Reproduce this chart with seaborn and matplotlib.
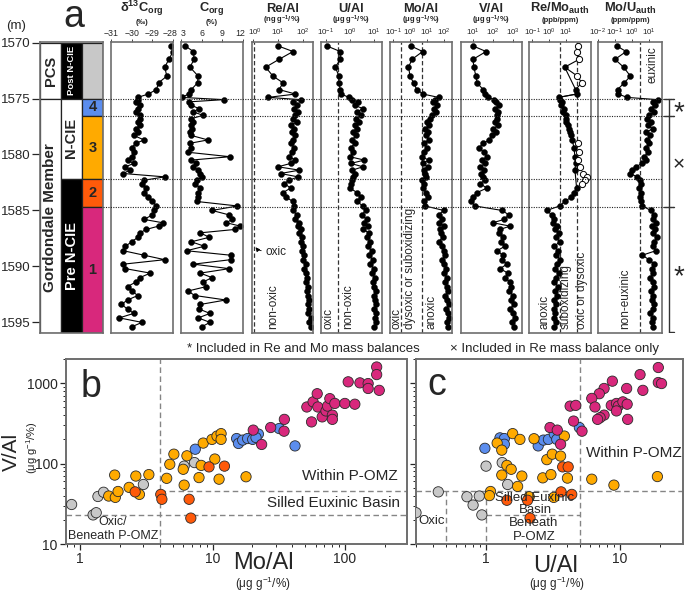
import numpy as np
import pandas as pd
import matplotlib
matplotlib.use("Agg")
import matplotlib.pyplot as plt
import matplotlib.transforms as mtrans
import seaborn as sns
from matplotlib.ticker import NullLocator, NullFormatter, LogLocator, FixedLocator

# ---------------- data: panel a (depth profiles) ----------------
depth = [1570.3, 1570.8, 1571.5, 1572.2, 1573.0, 1573.6, 1574.2, 1574.6, 1574.9,
         1575.1, 1575.3, 1575.6, 1575.9, 1576.2, 1576.5,
         1576.8, 1577.1, 1577.4, 1577.7, 1578.0, 1578.3, 1578.7, 1579.0, 1579.4, 1579.8,
         1580.2, 1580.5, 1580.8, 1581.1, 1581.4, 1581.7, 1582.0,
         1582.3, 1582.6, 1583.0, 1583.4, 1583.8, 1584.2, 1584.6,
         1585.0, 1585.4, 1585.8, 1586.1, 1586.4, 1586.7, 1587.0, 1587.4, 1587.8, 1588.2,
         1588.6, 1589.0, 1589.4, 1589.8, 1590.2, 1590.6, 1591.0, 1591.4, 1591.8, 1592.2,
         1592.6, 1593.0, 1593.4, 1593.8, 1594.2, 1594.6, 1595.0, 1595.4]

d13c = [-28.1, -28.0, -28.2, -28.4, -28.3, -28.7, -28.8, -29.2, -29.7,
        -29.7, -29.8, -29.6, -29.7, -29.8, -29.6,
        -29.6, -29.7, -29.6, -29.8, -29.7, -29.9, -29.4, -29.8, -30.0, -29.9, -30.0, -30.2,
        -29.9, -30.3, -30.1, -30.4, -28.4,
        -29.4, -29.5, -29.3, -29.4, -29.2, -29.0, -28.8,
        -28.9, -29.0, -29.4, -28.5, -28.7, -29.3, -29.6, -29.7, -30.0, -30.3, -30.4, -29.4,
        -28.4, -30.4, -30.3, -29.1, -29.6, -29.8, -30.2, -30.0, -29.7, -30.2, -30.5, -30.2,
        -29.9, -30.6, -29.5, -30.0]

corg = [3.6, 4.8, 4.9, 4.3, 5.5, 5.4, 4.5, 4.1, 3.1,
        9.2, 4.1, 4.5, 5.6, 4.8, 6.2,
        4.5, 4.8, 4.4, 4.6, 4.3, 4.5, 6.9, 4.3, 4.4, 4.0, 10.1, 4.5, 5.2, 4.7, 5.5, 5.7, 6.0,
        5.3, 5.0, 5.8, 5.4, 5.5, 5.3, 11.2,
        7.5, 10.0, 10.4, 9.6, 11.6, 10.8, 5.8, 7.1, 4.5, 6.4, 3.8, 10.2, 10.2, 4.8, 10.0,
        5.8, 7.5, 6.2, 6.7, 4.0, 5.0, 9.5, 5.8, 5.6, 7.2, 5.5, 7.2, 6.0]

re_al = [10, 40, 11, 3.2, 6.3, 16, 11, 50, 4,
         80, 40, 56, 45, 63, 50,
         40, 56, 32, 45, 35, 50, 40, 32, 45, 35, 28, 50, 32, 10, 71, 12.6, 63,
         28, 18, 32, 16, 20, 40, 45,
         40, 56, 50, 71, 63, 80, 71, 89, 80, 100, 89, 112, 100, 126, 112, 126, 141, 126,
         158, 141, 158, 178, 158, 178, 158, 200, 178, 200]

u_al = [0.11, 0.4, 0.4, 0.25, 0.35, 0.35, 0.4, 0.45, 0.9,
        1.26, 2.2, 1.6, 3.5, 2.0, 2.8,
        1.8, 2.5, 1.6, 2.0, 1.4, 1.8, 1.26, 1.6, 1.1, 1.4, 1.0, 4.0, 1.1, 3.5, 1.26, 1.6, 1.4,
        1.26, 1.1, 1.0, 2.0, 2.8, 2.0, 3.5,
        4.5, 3.2, 5.0, 4.0, 5.6, 3.5, 6.3, 5.0, 7.1, 5.6, 8.0, 6.3, 8.9, 7.1, 10, 8.0, 11,
        8.9, 10, 12.6, 10, 11, 12.6, 10, 12.6, 11, 12.6, 10]

mo_al = [1.1, 5.6, 1.3, 0.8, 1.0, 1.6, 2.5, 5.9, 50,
         32, 22, 40, 25, 35, 20,
         16, 10, 14, 8, 11, 9, 12.6, 6.3, 10, 7, 5, 12.6, 5.6, 11, 6.3, 8, 9,
         5, 6.3, 5.6, 9, 11, 7, 8,
         100, 50, 80, 56, 100, 63, 71, 89, 50, 80, 100, 126, 80, 112, 141, 100, 158, 126,
         158, 178, 126, 158, 200, 141, 178, 200, 158, 178]

v_al = [10, 45, 10, 11, 14, 16, 32, 40, 56,
        112, 141, 200, 126, 178, 158,
        158, 126, 178, 100, 141, 89, 63, 32, 20, 35, 50, 28, 40, 22, 35, 25, 32,
        40, 22, 50, 16, 10, 8, 12.6,
        282, 631, 355, 100, 708, 224, 200, 316, 251, 398, 158, 316, 282, 501, 224, 562,
        398, 708, 794, 631, 1000, 794, 1122, 708, 1000, 1259, 891, 1122]

re_mo = [50, 45, 56, 8, 45, 80, 35, 40, 3.5,
         4, 5.6, 5, 7, 6.3, 9,
         10, 9, 12.6, 14, 16, 20, 22, 50, 28, 56, 32, 50, 35, 63, 32, 100, 158,
         126, 80, 40, 28, 20, 8, 4,
         0.7, 1.4, 2, 1.6, 2.8, 2.2, 3.5, 2.5, 4, 2, 3.2, 2.5, 4.5, 2.8, 2.2, 3.5, 2.5, 2,
         3.2, 2.2, 2.8, 2, 2.5, 1.8, 2.2, 2, 2.5, 2]
re_mo_open = [1, 1, 1, 0, 1, 1, 0, 0, 0,
              0, 0, 0, 0, 0, 0,
              0, 0, 0, 0, 0, 0, 0, 1, 0, 1, 0, 1, 0, 1, 0, 1, 1,
              1, 1, 0, 0, 0, 0, 0] + [0] * 28

mo_u = [0.126, 0.45, 0.1, 0.32, 0.8, 0.35, 0.14, 0.16, 0.5,
        32, 16, 22, 12.6, 20, 10,
        8, 12.6, 9, 16, 7, 11, 8, 10, 6.3, 9, 5, 7, 4, 1.6, 1.0, 0.8, 2.0,
        2.8, 3.2, 2.5, 3.5, 2.8, 3.2, 4.0,
        12.6, 20, 16, 25, 14, 22, 18, 28, 20, 16, 25, 4, 10, 20, 14, 18, 11, 16, 20, 12.6,
        18, 14, 20, 16, 11, 18, 14, 16]

# stratigraphy
unit_names = ["PCS", "Gordondale Member"]
unit_tops = [1570, 1575]
phase_names = ["Post N-CIE", "N-CIE", "Pre N-CIE"]
phase_tops = [1570, 1575, 1582.2]
interval_names = ["", "4", "3", "2", "1"]
interval_tops = [1570, 1575, 1576.6, 1582.2, 1584.7]
boundaries = [1575, 1576.6, 1582.2, 1584.7]

# ---------------- data: panels b and c ----------------
groups = ["post", "i4", "i3", "i2", "i1"]
palette = {"post": "#C8C8C8", "i4": "#5B8DEE", "i3": "#FFAA00", "i2": "#FF5A0A", "i1": "#D8287C"}

b_post_mo = [0.86, 1.25, 1.32, 1.36, 1.5, 3.0, 6.1, 7.3]
b_post_v = [31, 23, 24.5, 39, 44, 55, 93, 103]
b_i3_mo = [1.82, 1.64, 1.84, 1.93, 2.34, 2.63, 2.8, 3.3, 4.5, 4.75, 5.1, 6.1, 6.0, 6.4,
           7.9, 8.2, 10.4, 11.2, 17.9, 8.5, 9.9, 10.8, 11.6, 11.6]
b_i3_v = [72, 39.5, 38, 45, 50.6, 70, 41.4, 73, 65.6, 98, 131, 54, 85, 125,
          67, 95, 114, 64, 68.6, 180, 200, 220, 236, 200]
b_i2_mo = [2.6, 4.06, 4.14, 6.65, 6.85, 9.4, 12.3]
b_i2_v = [44.5, 41.4, 36, 36, 21, 91, 93]
b_i4_mo = [7.4, 15.2, 15.7, 16.9, 18.4, 20.1, 22.2, 21.3, 31.9, 42]
b_i4_v = [151, 205, 178, 196, 205, 200, 233, 211, 273, 166]
b_i1_mo = [20.3, 23.5, 27.5, 34.9, 34.7, 51.6, 56, 57.5, 62.5, 61.8, 67.4, 72, 74, 77,
           80.5, 80.5, 84, 100, 106, 119, 130, 150, 150, 174, 174, 182]
b_i1_v = [261, 173, 281, 355, 253, 506, 330, 586, 506, 740, 381, 452, 519, 643,
          401, 355, 560, 560, 1040, 548, 1010, 990, 860, 1590, 1280, 815]

c_post_u = [0.30, 0.44, 0.72, 0.80, 0.89, 0.93, 1.0, 1.32, 1.45]
c_post_v = [24.5, 44.5, 38.7, 30.5, 39.5, 23, 93, 103, 55]
c_i3_u = [1.58, 1.21, 1.31, 1.79, 2.28, 3.84, 2.84, 3.12, 3.6, 6.15, 9.0, 19, 1.43, 1.54,
          1.31, 1.85, 1.72, 2.65, 3.05, 4.05, 1.08, 1.06, 2.1, 3.2]
c_i3_v = [236, 180, 147, 200, 204, 220, 112, 131, 124, 64, 54, 69, 95, 85,
          72, 70, 52, 66.5, 73, 66, 45, 40, 38.7, 38]
c_i2_u = [3.73, 4.1, 3.63, 4.36, 1.43, 2.04, 2.13]
c_i2_v = [91, 91, 44.5, 41.4, 35, 35, 21]
c_i4_u = [4.97, 0.98, 1.27, 1.37, 1.37, 2.45, 2.68, 2.92, 3.23, 3.37]
c_i4_v = [281, 155, 209, 205, 174, 166, 196, 200, 233, 200]
c_i1_u = [19.3, 14.1, 19.3, 20.4, 14.8, 8.76, 7.6, 7.0, 6.15, 11.2, 6.5, 8.6, 9.4, 9.7,
          10.5, 11.3, 9.4, 7.6, 7.1, 6.8, 11.4, 4.24, 4.67, 4.5, 5.2, 3.0, 3.4, 3.6]
c_i1_v = [1567, 1280, 1020, 990, 815, 1060, 860, 740, 647, 860, 506, 530, 560, 519,
          586, 548, 452, 401, 373, 355, 355, 519, 530, 338, 253, 281, 261, 174]

# ---------------- style ----------------
sns.set_style("ticks")
plt.rcParams["font.family"] = ["Liberation Sans", "DejaVu Sans"]
plt.rcParams["mathtext.default"] = "regular"
SPINE = "#6E6E6E"

W, H = 685, 594
fig = plt.figure(figsize=(W / 100, H / 100), dpi=100)


def rect(x0, y0, x1, y1):
    return [x0 / W, 1 - y1 / H, (x1 - x0) / W, (y1 - y0) / H]


def ftext(x, y, s, **kw):
    return fig.text(x / W, 1 - y / H, s, **kw)


def nudge(label, dx_px):
    label.set_transform(label.get_transform() +
                        mtrans.ScaledTranslation(dx_px / 100, 0, fig.dpi_scale_trans))


D_TOP, D_BOT = 1569.95, 1595.95

# ---------------- stratigraphic column ----------------
sax = fig.add_axes(rect(40, 42, 103, 333))
sax.set_xlim(0, 3)
sax.set_ylim(D_BOT, D_TOP)
ut = unit_tops + [D_BOT]
for i, nm in enumerate(unit_names):
    sax.bar(0.5, ut[i + 1] - ut[i], bottom=ut[i], width=1, color="white", edgecolor="#222", lw=0.9)
pt = phase_tops + [D_BOT]
for i, nm in enumerate(phase_names):
    fc = "black" if i != 1 else "white"
    sax.bar(1.5, pt[i + 1] - pt[i], bottom=pt[i], width=1, color=fc, edgecolor="#222", lw=0.9)
it = interval_tops + [D_BOT]
for i, nm in enumerate(interval_names):
    sax.bar(2.5, it[i + 1] - it[i], bottom=it[i], width=1, color=palette[groups[i]],
            edgecolor="#222", lw=0.9)
    if nm:
        sax.text(2.5, (it[i] + it[i + 1]) / 2, nm, ha="center", va="center",
                 fontsize=10.5, fontweight="bold")
sax.text(0.5, 1572.5, "PCS", rotation=90, ha="center", va="center", fontsize=10.5, fontweight="bold")
sax.text(0.5, 1585.6, "Gordondale Member", rotation=90, ha="center", va="center",
         fontsize=11, fontweight="bold")
sax.text(1.5, 1572.45, "Post N-CIE", rotation=90, ha="center", va="center", fontsize=6.8,
         fontweight="bold", color="white")
sax.text(1.5, 1578.5, "N-CIE", rotation=90, ha="center", va="center", fontsize=10.5,
         fontweight="bold")
sax.text(1.5, 1589.1, "Pre N-CIE", rotation=90, ha="center", va="center", fontsize=10.5,
         fontweight="bold", color="white")
sax.set_yticks([1570, 1575, 1580, 1585, 1590, 1595])
sax.set_xticks([])
sax.tick_params(axis="y", direction="out", length=6, width=0.9, pad=1, labelsize=9.5)
for s in sax.spines.values():
    s.set_color(SPINE)
    s.set_linewidth(1.2)
ftext(16, 26, "(m)", ha="center", va="center", fontsize=9.5)
ftext(63, 27, "a", ha="left", va="baseline", fontsize=27)

# ---------------- profile columns ----------------
cols = [
    dict(v=d13c, x0=111, x1=173, log=False, xlim=(-31, -28), ticks=[-31, -30, -29, -28],
         title="δ$^{13}$C$_{org}$", unit="(‰)", dashed=[], ls=6.3, nudge={3: -2.5}, uy=22),
    dict(v=corg, x0=181, x1=243, log=False, xlim=(3, 12), ticks=[3, 6, 9, 12],
         title="C$_{org}$", unit="(%)", dashed=[], ls=6.3, nudge={0: 2, 3: -2.5}, uy=22),
    dict(v=re_al, x0=252, x1=313, log=True, xlim=(10 ** -0.04, 10 ** 2.4), ticks=[1, 10, 100],
         title="Re/Al", unit="(ng g$^{-1}$/%)", dashed=[1.05], ls=5.8, nudge={0: 2}, uy=20.5),
    dict(v=u_al, x0=321, x1=382, log=True, xlim=(10 ** -1.2, 10 ** 1.34), ticks=[0.1, 1, 10],
         title="U/Al", unit="(μg g$^{-1}$/%)", dashed=[0.32], ls=5.8, nudge={}, uy=20.5),
    dict(v=mo_al, x0=390, x1=452, log=True, xlim=(10 ** -1.2, 10 ** 2.5), ticks=[0.1, 1, 10, 100],
         title="Mo/Al", unit="(μg g$^{-1}$/%)", dashed=[0.29, 5.1], ls=5.8, nudge={}, uy=20.5),
    dict(v=v_al, x0=461, x1=522, log=True, xlim=(10 ** 0.4, 10 ** 3.45), ticks=[10, 100, 1000],
         title="V/Al", unit="(μg g$^{-1}$/%)", dashed=[], ls=5.8, nudge={}, uy=20.5),
    dict(v=re_mo, x0=529, x1=591, log=True, xlim=(10 ** -1.2, 10 ** 2.45), ticks=[0.1, 1, 10],
         title="Re/Mo$_{auth}$", unit="(ppb/ppm)", dashed=[4.2, 42], ls=5.8, nudge={}, uy=20.5),
    dict(v=mo_u, x0=598, x1=662, log=True, xlim=(10 ** -2, 10 ** 1.76), ticks=[0.01, 0.1, 1, 10],
         title="Mo/U$_{auth}$", unit="(ppm/ppm)", dashed=[3.0], ls=5.8, nudge={}, uy=20.5),
]

for c in cols:
    ax = fig.add_axes(rect(c["x0"], 42, c["x1"], 333))
    if c["log"]:
        ax.set_xscale("log")
    for dv in c["dashed"]:
        ax.axvline(dv, color="#333", ls=(0, (3.5, 2)), lw=0.9, zorder=1)
    if c["v"] is re_mo:
        df = pd.DataFrame({"v": re_mo, "d": depth, "o": re_mo_open})
        post = df[df.d < 1575]
        filled = df[df.o == 0]
        sns.lineplot(data=post, x="v", y="d", sort=False, estimator=None, orient="y",
                     color="black", lw=0.8, ax=ax, legend=False)
        sns.lineplot(data=filled, x="v", y="d", sort=False, estimator=None, orient="y",
                     color="black", lw=0.8, marker="o", markersize=4.3, markeredgewidth=0.3,
                     markeredgecolor="black", ax=ax, legend=False)
        opn = df[df.o == 1]
        sns.scatterplot(data=opn, x="v", y="d", color="white", edgecolor="black", linewidth=0.7,
                        s=20, ax=ax, legend=False, zorder=4)
    else:
        df = pd.DataFrame({"v": c["v"], "d": depth})
        sns.lineplot(data=df, x="v", y="d", sort=False, estimator=None, orient="y",
                     color="black", lw=0.8, marker="o", markersize=4.3, markeredgewidth=0.3,
                     markeredgecolor="black", ax=ax, legend=False)
    ax.set_xlim(*c["xlim"])
    ax.set_ylim(D_BOT, D_TOP)
    ax.set_xlabel("")
    ax.set_ylabel("")
    ax.set_yticks([])
    ax.xaxis.set_major_locator(FixedLocator(c["ticks"]))
    ax.xaxis.set_minor_locator(NullLocator())
    ax.xaxis.tick_top()
    ax.tick_params(axis="x", direction="out", length=2, width=0.6, pad=1.2, labelsize=c["ls"],
                   top=True, bottom=False, labeltop=True, labelbottom=False)
    for s in ax.spines.values():
        s.set_color(SPINE)
        s.set_linewidth(1.2)
    if c["nudge"]:
        fig.canvas.draw()
        labs = ax.get_xticklabels(which="major")
        for idx, dx in c["nudge"].items():
            nudge(labs[idx], dx)
    cx = (c["x0"] + c["x1"]) / 2
    ftext(cx, 8.7, c["title"], ha="center", va="center", fontsize=9.3, fontweight="bold")
    ftext(cx, c["uy"], c["unit"], ha="center", va="center", fontsize=5.5, fontweight="bold")

# zone labels inside panel a
lab_kw = dict(rotation=90, ha="center", va="bottom", fontsize=8.5)
ftext(273, 329, "non-oxic", **lab_kw)
ftext(329, 329, "oxic", **lab_kw)
ftext(348, 329, "non-oxic", **lab_kw)
ftext(396, 329, "oxic", **lab_kw)
ftext(410, 329, "dysoxic or suboxidizing", **lab_kw)
ftext(431, 329, "anoxic", **lab_kw)
ftext(545, 329, "anoxic", **lab_kw)
ftext(566, 329, "suboxidizing", **lab_kw)
ftext(582, 329, "oxic or dysoxic", **lab_kw)
ftext(625, 329, "non-euxinic", **lab_kw)
ftext(652, 46, "euxinic", rotation=90, ha="center", va="top", fontsize=8.5)
fig.add_artist(matplotlib.patches.FancyArrowPatch(
    (264 / W, 1 - 251 / H), (254 / W, 1 - 245 / H), transform=fig.transFigure,
    arrowstyle="-|>", mutation_scale=6, color="black", lw=0.6,
    connectionstyle="arc3,rad=-0.3"))
ftext(265, 252, "oxic", ha="left", va="center", fontsize=8.5)

# overlay: dotted boundaries and brackets
ov = fig.add_axes(rect(103, 42, 685, 333), zorder=5)
ov.set_xlim(103, 685)
ov.set_ylim(D_BOT, D_TOP)
ov.axis("off")
ov.patch.set_alpha(0)
for b in boundaries:
    xe = 662 if b == 1582.2 else 674
    ov.plot([103, xe], [b, b], ls=(0, (1, 1.2)), color="#222", lw=0.8)
ov.plot([669, 669], [1575, D_BOT - 0.05], color="#333", lw=1.0)
for b in [1575, 1576.6, 1584.7]:
    ov.plot([664, 674], [b, b], color="#333", lw=1.0)
ov.plot([669, 674], [D_BOT - 0.05, D_BOT - 0.05], color="#333", lw=1.0)
ftext(679, 113, "*", ha="center", va="center", fontsize=20)
ftext(679, 165, "×", ha="center", va="center", fontsize=15)
ftext(679, 277, "*", ha="center", va="center", fontsize=20)

ftext(187, 349, "* Included in Re and Mo mass balances", ha="left", va="center", fontsize=9.5)
ftext(450, 349, "× Included in Re mass balance only", ha="left", va="center", fontsize=9.5)


# ---------------- scatter panels ----------------
def make_df(d):
    rows = []
    for g in groups:
        xs, ys = d[g]
        for x, y in zip(xs, ys):
            rows.append((g, x, y))
    return pd.DataFrame(rows, columns=["grp", "x", "y"])


dfb = make_df({"post": (b_post_mo, b_post_v), "i3": (b_i3_mo, b_i3_v), "i2": (b_i2_mo, b_i2_v),
               "i4": (b_i4_mo, b_i4_v), "i1": (b_i1_mo, b_i1_v)})
dfc = make_df({"post": (c_post_u, c_post_v), "i3": (c_i3_u, c_i3_v), "i2": (c_i2_u, c_i2_v),
               "i4": (c_i4_u, c_i4_v), "i1": (c_i1_u, c_i1_v)})

DASH = dict(color="#858585", ls=(0, (4, 2.5)), lw=1.0, zorder=1)


def style_scatter(ax, xlim):
    ax.set_xlim(*xlim)
    ax.set_ylim(10, 2000)
    ax.set_xlabel("")
    ax.set_ylabel("")
    ax.xaxis.set_minor_locator(LogLocator(base=10, subs=np.arange(2, 10)))
    ax.yaxis.set_minor_locator(LogLocator(base=10, subs=np.arange(2, 10)))
    ax.xaxis.set_minor_formatter(NullFormatter())
    ax.yaxis.set_minor_formatter(NullFormatter())
    ax.tick_params(which="major", direction="out", length=4, width=0.9, labelsize=10, pad=2)
    ax.tick_params(which="minor", direction="out", length=2.2, width=0.7)
    for s in ax.spines.values():
        s.set_color(SPINE)
        s.set_linewidth(1.4)


axb = fig.add_axes(rect(66, 359, 407, 544))
axb.set_xscale("log")
axb.set_yscale("log")
sns.scatterplot(data=dfb, x="x", y="y", hue="grp", palette=palette, s=55, edgecolor="#2a2a2a",
                linewidth=0.6, legend=False, ax=axb, zorder=3)
style_scatter(axb, (0.78, 295))
axb.set_xticks([1, 10, 100])
axb.set_xticklabels(["1", "10", "100"])
axb.set_yticks([10, 100, 1000])
axb.set_yticklabels(["10", "100", "1000"])
axb.axvline(4, **DASH)
axb.axhline(23, **DASH)
axb.plot([4, 400], [45, 45], **DASH)
ftext(398, 476, "Within P-OMZ", ha="right", va="center", fontsize=11)
ftext(400, 503, "Silled Euxinic Basin", ha="right", va="center", fontsize=11)
ftext(113, 529, "Oxic/\nBeneath P-OMZ", ha="center", va="center", fontsize=9, linespacing=1.25)
ftext(81, 397, "b", ha="left", va="baseline", fontsize=27)
ftext(263, 563, "Mo/Al", ha="center", va="center", fontsize=17)
ftext(263, 584, "(μg g$^{-1}$/%)", ha="center", va="center", fontsize=8.5)
ftext(11, 452, "V/Al", ha="center", va="center", rotation=90, fontsize=15)
ftext(32, 448, "(μg g$^{-1}$/%)", ha="center", va="center", rotation=90, fontsize=8)

axc = fig.add_axes(rect(416, 359, 683, 544))
axc.set_xscale("log")
axc.set_yscale("log")
sns.scatterplot(data=dfc, x="x", y="y", hue="grp", palette=palette, s=55, edgecolor="#2a2a2a",
                linewidth=0.6, legend=False, ax=axc, zorder=3)
style_scatter(axc, (0.30, 29.5))
axc.set_xticks([1, 10])
axc.set_xticklabels(["1", "10"])
axc.set_yticks([10, 100, 1000])
axc.set_yticklabels([])
axc.axvline(5, **DASH)
axc.axhline(45, **DASH)
axc.plot([0.5, 0.5], [5, 45], **DASH)
axc.plot([1, 1], [5, 45], **DASH)
axc.plot([1, 5], [23, 23], **DASH)
ftext(682, 453, "Within P-OMZ", ha="right", va="center", fontsize=11)
ftext(535, 504, "Silled Euxinic\nBasin", ha="center", va="center", fontsize=9.5, linespacing=1.1)
ftext(534, 530, "Beneath\nP-OMZ", ha="center", va="center", fontsize=9.5, linespacing=1.15)
ftext(432, 521, "Oxic", ha="center", va="center", fontsize=9.5)
ftext(427, 395, "c", ha="left", va="baseline", fontsize=27)
ftext(556, 566, "U/Al", ha="center", va="center", fontsize=17)
ftext(557, 584, "(μg g$^{-1}$/%)", ha="center", va="center", fontsize=8.5)

fig.savefig("out.png", dpi=100, facecolor="white")
